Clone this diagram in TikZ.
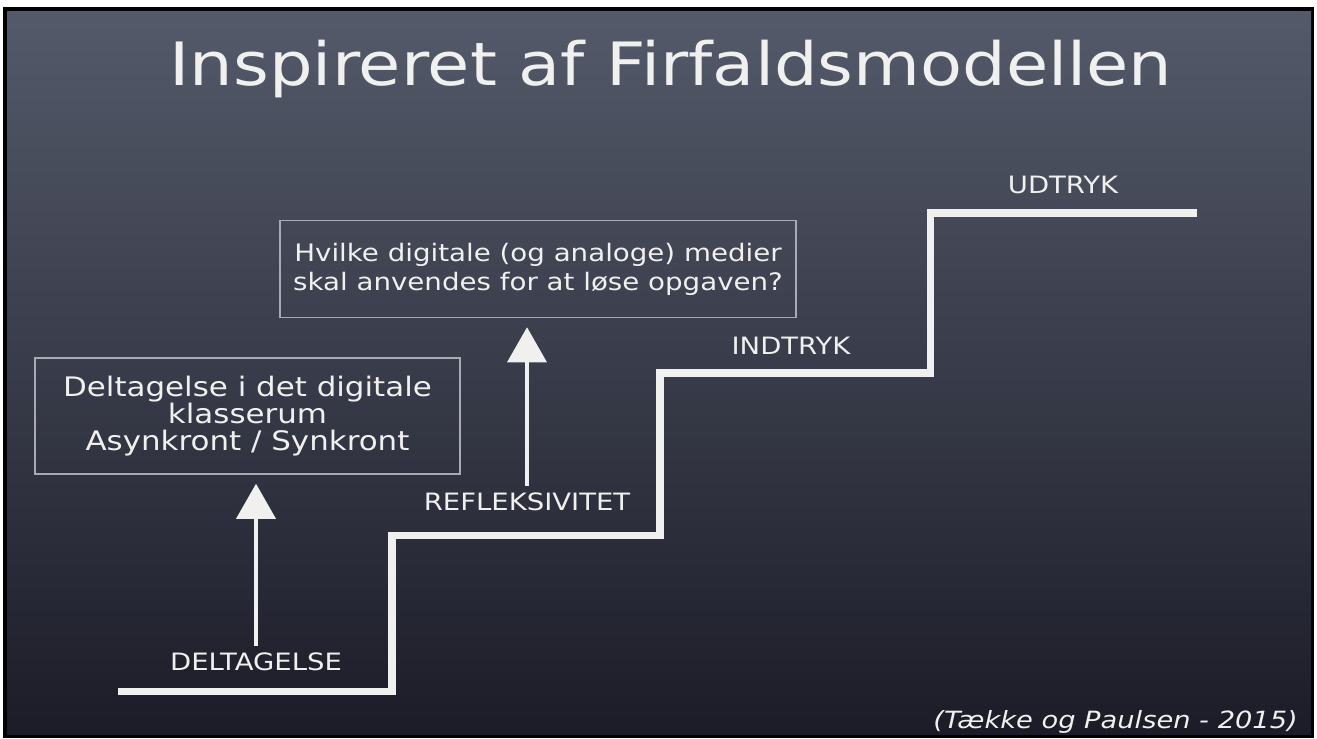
\documentclass[tikz,border=0pt]{standalone}
\usepackage{fontspec}
\setmainfont{DejaVu Sans}[FakeStretch=1.15]
\usetikzlibrary{arrows.meta,positioning}
\definecolor{tavletop}{RGB}{84,90,106}
\definecolor{tavlemidt}{RGB}{62,65,80}
\definecolor{tavlebund}{RGB}{28,28,40}
\definecolor{kridt}{RGB}{240,240,238}
\definecolor{boksramme}{RGB}{168,171,180}

\begin{document}
\begin{tikzpicture}[x=0.02cm,y=-0.02cm,
  trappe/.style={draw=kridt, line width=4pt},
  boks/.style={draw=boksramme, line width=1pt, text=kridt, align=center},
  trin/.style={text=kridt, anchor=base, font=\fontsize{13.6}{16}\selectfont},
  pil/.style={draw=kridt, line width=2.8pt, -{Triangle[width=22pt,length=20pt]},
    shorten >=5pt}]
  \useasboundingbox (0,0) rectangle (1317,738);

  % Tavle
  \fill[white] (0,0) rectangle (1317,738);
  \fill[black] (3,7) rectangle (1314,738);
  \shade[top color=tavletop, middle color=tavlemidt, bottom color=tavlebund]
    (7,11) rectangle (1311,734);

  % Overskrift
  \node[text=kridt, anchor=base, font=\fontsize{34}{40}\selectfont] (titel) at (671,85)
    {Inspireret af Firfaldsmodellen};

  % Trappen
  \draw[trappe] (118,691) -| (392,535) -| (660,373) -| (930,213) -- (1197,213);

  \node[trin] (deltagelse) at (256,670) {DELTAGELSE};
  \node[trin] (refleks) at (527,510) {REFLEKSIVITET};
  \node[trin] (indtryk) at (791,354) {INDTRYK};
  \node[trin] (udtryk) at (1063,193) {UDTRYK};

  % Bokse
  \node[boks, minimum width=8.5cm, minimum height=2.32cm,
    font=\fontsize{15.3}{15.2}\selectfont] (boks1) at (247.5,416)
    {Deltagelse i det digitale\\klasserum\\Asynkront / Synkront};
  \node[boks, minimum width=10.32cm, minimum height=1.94cm,
    font=\fontsize{13.7}{16.5}\selectfont] (boks2) at (538,269)
    {Hvilke digitale (og analoge) medier\\skal anvendes for at løse opgaven?};

  % Pile
  \draw[pil] (deltagelse.north) -- (deltagelse.north |- boks1.south);
  \draw[pil] (refleks.north) -- (refleks.north |- boks2.south);

  % Kilde
  \node[text=kridt, anchor=base east, font=\fontsize{13.5}{18}\selectfont\itshape]
    (kilde) at (1304,728) {(Tække og Paulsen - 2015)};
\end{tikzpicture}
\end{document}
